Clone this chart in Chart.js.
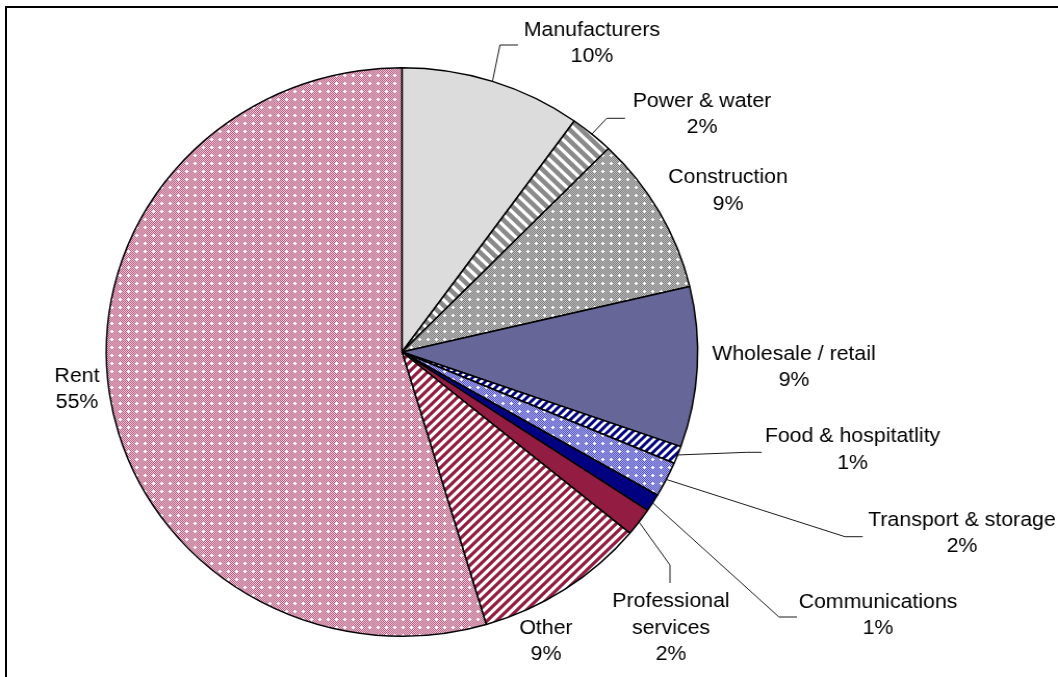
<!DOCTYPE html>
<html>
<head>
<meta charset="utf-8">
<title>Sector breakdown</title>
<script src="https://cdn.jsdelivr.net/npm/chart.js@4/dist/chart.umd.min.js"></script>
<style>
  html, body { margin: 0; padding: 0; background: #fff; overflow: hidden; }
  body { width: 1058px; height: 677px; position: relative; }
  /* outer frame, runs off the right and bottom edges */
  .frame {
    position: absolute; left: 5px; top: 6px;
    width: 1200px; height: 800px;
    border: 2px solid #000;
  }
  /* the pie is a little wider than tall, so stretch the drawing sideways */
  #pieChart {
    position: absolute; left: 0; top: 0;
    transform: scaleX(1.0403);
    transform-origin: 0 0;
  }
</style>
</head>
<body>
<div class="frame"></div>
<canvas id="pieChart" width="1017" height="677"></canvas>

<script>
// 行业分布（百分比）
const categories = [
  'Manufacturers',
  'Power & water',
  'Construction',
  'Wholesale / retail',
  'Food & hospitatlity',
  'Transport & storage',
  'Communications',
  'Professional services',
  'Other',
  'Rent'
];
const shares = [9.9, 2.4, 9.0, 9.1, 1.0, 2.0, 1.0, 1.6, 9.4, 54.6];

// 标签位置：相对饼图圆心的偏移（画布坐标），leader 为引线拐点
const labelLayout = [
  { dx: 182.6, dy: -322, leader: [[94.2, -307], [111.5, -307]] },
  { dx: 288.4, dy: -251, leader: [[196.8, -233.7], [214.4, -233.7]] },
  { dx: 313.4, dy: -174.5 },
  { dx: 376.8, dy: 2 },
  { dx: 433.1, dy: 84.7, leader: [[331.4, 100.3], [345.8, 100.3]] },
  { dx: 538.3, dy: 168, leader: [[425.8, 184.7], [442.9, 184.7]] },
  { dx: 457.6, dy: 250, leader: [[362.4, 265], [379.7, 265]] },
  { dx: 258.6, dy: 249.7, wrap: true, leader: [[257.6, 213], [257.6, 231]] },
  { dx: 138.4, dy: 276.3 },
  { dx: -312.4, dy: 24 }
];

const LINE_HEIGHT = 26.5;
const LABEL_FONT = '20.5px "Liberation Sans", Arial, sans-serif';

// 小格子 + 白色十字点
function dotPattern(dark, light) {
  const c = document.createElement('canvas');
  c.width = 8;
  c.height = 8;
  const g = c.getContext('2d');
  for (let y = 0; y < 8; y++) {
    for (let x = 0; x < 8; x++) {
      g.fillStyle = (x + y) % 2 ? dark : light;
      g.fillRect(x, y, 1, 1);
    }
  }
  g.fillStyle = '#ffffff';
  g.fillRect(3, 2, 1, 3);
  g.fillRect(2, 3, 3, 1);
  return g.createPattern(c, 'repeat');
}

// 斜条纹，dir = 'up' 为 "/"，'down' 为 "\"
function stripePattern(color, size, width, dir) {
  const c = document.createElement('canvas');
  c.width = size;
  c.height = size;
  const g = c.getContext('2d');
  g.fillStyle = '#ffffff';
  g.fillRect(0, 0, size, size);
  g.strokeStyle = color;
  g.lineWidth = width;
  g.beginPath();
  for (let k = -2; k <= 3; k++) {
    if (dir === 'up') {
      g.moveTo(-size, k * size + size);
      g.lineTo(2 * size, k * size - 2 * size);
    } else {
      g.moveTo(-size, -size - k * size);
      g.lineTo(2 * size, 2 * size - k * size);
    }
  }
  g.stroke();
  return g.createPattern(c, 'repeat');
}

const fills = [
  '#dcdcdc',
  stripePattern('#8a8a8a', 11, 4.5, 'down'),
  dotPattern('#7a7a7a', '#c4c4c4'),
  '#666699',
  stripePattern('#000080', 8, 3, 'up'),
  dotPattern('#5050c0', '#b0b0ee'),
  '#000080',
  '#931c42',
  stripePattern('#931c42', 9, 3.2, 'up'),
  dotPattern('#b25a80', '#f0cbd8')
];

// 外部标签和引线
const outsideLabels = {
  id: 'outsideLabels',
  afterDatasetsDraw(chart) {
    const ctx = chart.ctx;
    const arcs = chart.getDatasetMeta(0).data;
    ctx.save();
    ctx.font = LABEL_FONT;
    ctx.fillStyle = '#000';
    ctx.textAlign = 'center';
    ctx.textBaseline = 'middle';
    arcs.forEach((arc, i) => {
      const pos = labelLayout[i];
      const cx = arc.x;
      const cy = arc.y;
      if (pos.leader) {
        const mid = (arc.startAngle + arc.endAngle) / 2;
        ctx.beginPath();
        ctx.moveTo(cx + arc.outerRadius * Math.cos(mid), cy + arc.outerRadius * Math.sin(mid));
        pos.leader.forEach(p => ctx.lineTo(cx + p[0], cy + p[1]));
        ctx.strokeStyle = '#1a1a1a';
        ctx.lineWidth = 1;
        ctx.stroke();
      }
      const name = categories[i];
      const lines = pos.wrap ? name.split(' ') : [name];
      lines.push(Math.round(shares[i]) + '%');
      lines.forEach((t, j) => {
        ctx.fillText(t, cx + pos.dx, cy + pos.dy + j * LINE_HEIGHT);
      });
    });
    ctx.restore();
  }
};

function renderPie() {
  const ctx = document.getElementById('pieChart').getContext('2d');
  new Chart(ctx, {
    type: 'pie',
    data: {
      labels: categories,
      datasets: [{
        data: shares,
        backgroundColor: fills,
        borderColor: '#000000',
        borderWidth: 1.5
      }]
    },
    options: {
      responsive: false,
      animation: false,
      layout: {
        padding: { left: 101.4, right: 345.6, top: 67, bottom: 40 }
      },
      plugins: {
        legend: { display: false },
        tooltip: { enabled: false }
      }
    },
    plugins: [outsideLabels]
  });
}

renderPie();
</script>
</body>
</html>
